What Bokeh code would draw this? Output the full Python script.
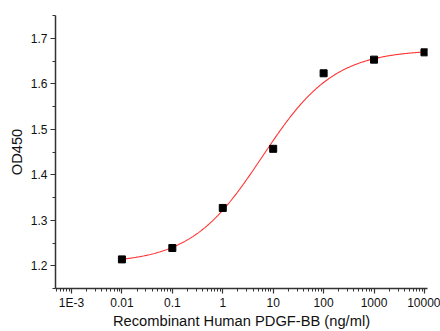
import numpy as np
from bokeh.plotting import figure
from bokeh.models import Range1d, FixedTicker
from bokeh.embed import file_html
from bokeh.resources import INLINE

# Measured data
conc = [0.01, 0.1, 1, 10, 100, 1000, 10000]
od450 = [1.214, 1.239, 1.327, 1.457, 1.623, 1.653, 1.669]

# 4-parameter logistic fit
fit_bottom = 1.205
fit_top = 1.675
fit_ec50 = 6.1
fit_hill = 0.61

x_ticks = [0.001, 0.01, 0.1, 1, 10, 100, 1000, 10000]
x_tick_labels = ["1E-3", "0.01", "0.1", "1", "10", "100", "1000", "10000"]
y_ticks = [1.2, 1.3, 1.4, 1.5, 1.6, 1.7]

FONT = "Liberation Sans"

p = figure(width=440, height=331, x_axis_type="log",
           x_range=Range1d(10 ** -3.317, 10 ** 4.06),
           y_range=Range1d(1.15, 1.75),
           output_backend="svg", toolbar_location=None,
           min_border_left=55, min_border_right=13,
           min_border_top=15, min_border_bottom=43)
p.outline_line_color = None
p.xgrid.visible = False
p.ygrid.visible = False

# fitted curve
cx = np.logspace(np.log10(conc[0]), np.log10(conc[-1]), 300)
cy = fit_top - (fit_top - fit_bottom) / (1 + (cx / fit_ec50) ** fit_hill)
p.line(cx, cy, line_color="#ff3333", line_width=1.1)

p.scatter(conc, od450, marker="square", size=7, fill_color="black",
          line_color="black")

minor_x = [m * d for d in x_ticks[:-1] for m in range(2, 10)] + [0.0005, 0.0006, 0.0007, 0.0008, 0.0009]
p.xaxis.ticker = FixedTicker(ticks=x_ticks, minor_ticks=minor_x)
p.xaxis.major_label_overrides = {t: l for t, l in zip(x_ticks, x_tick_labels)}
minor_y = [round(1.15 + 0.1 * i, 2) for i in range(7)]
p.yaxis.ticker = FixedTicker(ticks=y_ticks, minor_ticks=minor_y)

for ax in (p.xaxis[0], p.yaxis[0]):
    ax.axis_line_color = "#333333"
    ax.axis_line_width = 1.5
    ax.major_tick_line_color = "#333333"
    ax.major_tick_line_width = 1.2
    ax.minor_tick_line_color = "#333333"
    ax.minor_tick_line_width = 1
    ax.major_tick_out = 5
    ax.major_tick_in = 0
    ax.minor_tick_out = 3
    ax.minor_tick_in = 0
    ax.major_label_text_font = FONT
    ax.major_label_text_font_size = "12px"
    ax.major_label_text_color = "#111111"
    ax.axis_label_text_font = FONT
    ax.axis_label_text_font_size = "14.7px"
    ax.axis_label_text_font_style = "normal"
    ax.axis_label_text_color = "#111111"

p.xaxis.axis_label = "Recombinant Human PDGF-BB (ng/ml)"
p.yaxis.axis_label = "OD450"
p.xaxis.major_label_standoff = 2
p.xaxis.axis_label_standoff = 0
p.yaxis.major_label_standoff = 3
p.yaxis.axis_label_standoff = 3

open("out.html", "w").write(file_html(p, INLINE))
